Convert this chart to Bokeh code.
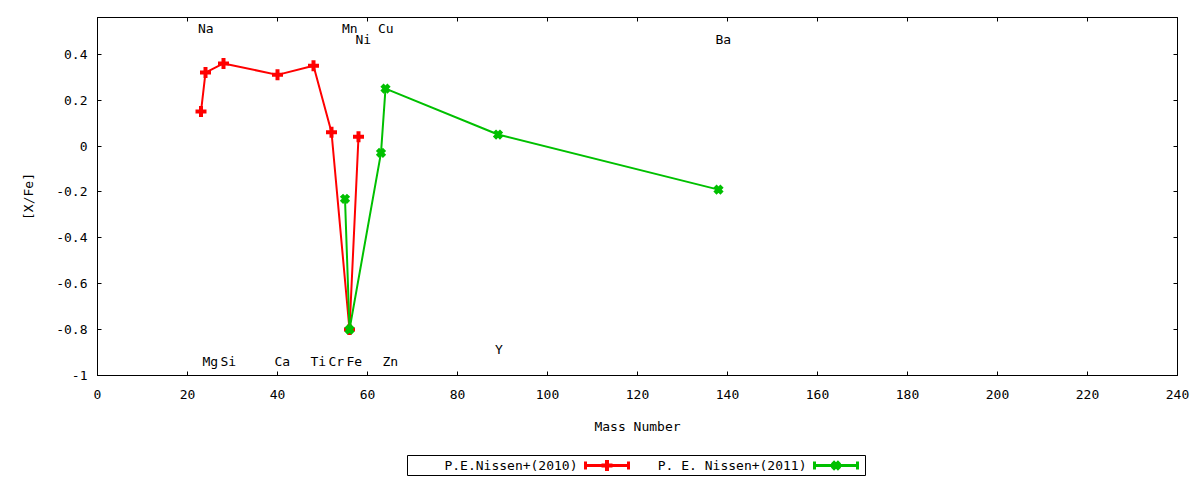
from bokeh.plotting import figure
from bokeh.models import Range1d, FixedTicker, LinearAxis, CustomJSTickFormatter, ColumnDataSource
from bokeh.layouts import column
from bokeh.core.properties import value
from bokeh.embed import file_html
from bokeh.resources import INLINE

# ---- data ----
red_mass = [23, 24, 28, 40, 48, 52, 56, 58]
red_xfe = [0.15, 0.32, 0.36, 0.31, 0.35, 0.06, -0.80, 0.04]
red_name = "P.E.Nissen+(2010)"

green_mass = [55, 56, 63, 64, 89, 138]
green_xfe = [-0.23, -0.80, -0.03, 0.25, 0.05, -0.19]
green_name = "P. E. Nissen+(2011)"

label_text = ["Na", "Mn", "Ni", "Cu", "Ba", "Mg", "Si", "Ca", "Ti", "Cr", "Fe", "Zn", "Y"]
label_mass = [23, 55, 58, 63, 138, 24, 28, 40, 48, 52, 56, 64, 89]
label_y = [0.5, 0.5, 0.45, 0.5, 0.45, -0.95, -0.95, -0.95, -0.95, -0.95, -0.95, -0.95, -0.9]

x_ticks = list(range(0, 241, 20))
y_ticks = [-1, -0.8, -0.6, -0.4, -0.2, 0, 0.2, 0.4]

x_title = "Mass Number"
y_title = "[X/Fe]"

RED = "#ff0000"
GREEN = "#00c000"
FONT = "DejaVu Sans Mono"
FS = "13px"

p = figure(width=1192, height=438, output_backend="svg", toolbar_location=None,
           x_range=Range1d(0, 240), y_range=Range1d(-1, 0.56),
           min_border_left=97, min_border_right=15, min_border_top=17, min_border_bottom=63)
p.grid.visible = False
p.outline_line_color = "black"
p.outline_line_width = 1
p.background_fill_color = "white"
p.border_fill_color = "white"

fmt = CustomJSTickFormatter(code="const v = Math.round(tick*10)/10; return v == 0 ? '0' : String(v);")
blank = CustomJSTickFormatter(code="return '';")

for ax in p.xaxis:
    ax.ticker = FixedTicker(ticks=x_ticks)
for ax in p.yaxis:
    ax.ticker = FixedTicker(ticks=y_ticks)
    ax.formatter = fmt

for ax in list(p.xaxis) + list(p.yaxis):
    ax.major_tick_in = 4
    ax.major_tick_out = 0
    ax.minor_tick_in = 0
    ax.minor_tick_out = 0
    ax.axis_line_color = "black"
    ax.major_tick_line_color = "black"
    ax.major_label_text_font = FONT
    ax.major_label_text_font_size = FS
    ax.major_label_text_color = "black"
    ax.axis_label_text_font = FONT
    ax.axis_label_text_font_size = FS
    ax.axis_label_text_font_style = "normal"
    ax.axis_label_text_color = "black"

p.xaxis.axis_label = x_title
p.yaxis.axis_label = y_title
p.xaxis.major_label_standoff = 14
p.xaxis.axis_label_standoff = 17
p.yaxis.major_label_standoff = 10
p.yaxis.axis_label_standoff = 17

# mirror axes (ticks only)
top = LinearAxis(ticker=FixedTicker(ticks=x_ticks), formatter=blank,
                 major_label_standoff=0, major_tick_in=4, major_tick_out=0,
                 minor_tick_in=0, minor_tick_out=0)
right = LinearAxis(ticker=FixedTicker(ticks=y_ticks), formatter=blank,
                   major_label_standoff=0, major_tick_in=4, major_tick_out=0,
                   minor_tick_in=0, minor_tick_out=0)
p.add_layout(top, "above")
p.add_layout(right, "right")

# series
p.line(red_mass, red_xfe, line_color=RED, line_width=2)
p.scatter(red_mass, red_xfe, marker="cross", size=11, line_color=RED, line_width=4)
p.line(green_mass, green_xfe, line_color=GREEN, line_width=2)
p.scatter(green_mass, green_xfe, marker="x", size=10, line_color=GREEN, line_width=4.5)

# element labels
src = ColumnDataSource(dict(x=label_mass, y=label_y, t=label_text))
p.text(x="x", y="y", text="t", source=src, text_font=value(FONT), text_font_size=FS,
       text_align="left", text_baseline="middle", x_offset=-3, y_offset=-3, text_color="black")

# ---- legend (gnuplot-style key below plot); x in page pixels ----
lg = figure(width=1192, height=42, output_backend="svg", toolbar_location=None,
            x_range=Range1d(97, 1177), y_range=Range1d(42, 0),
            min_border_left=97, min_border_right=15, min_border_top=0, min_border_bottom=0)
lg.axis.visible = False
lg.grid.visible = False
lg.outline_line_color = None
lg.quad(left=[407], right=[865], top=[17], bottom=[37], fill_color=None, line_color="black", line_width=1)

entries = [(red_name, RED, "cross", 11, 4, 577, 585, 628),
           (green_name, GREEN, "x", 10, 4.5, 806, 814, 857)]
for name, col, mk, sz, lw, tx, x0, x1 in entries:
    ly = 27
    lg.text(x=[tx], y=[ly], text=[name], text_font=value(FONT), text_font_size=FS,
            text_align="right", text_baseline="middle", text_color="black")
    lg.segment(x0=[x0], y0=[ly], x1=[x1], y1=[ly], line_color=col, line_width=3)
    lg.segment(x0=[x0, x1], y0=[ly - 4, ly - 4], x1=[x0, x1], y1=[ly + 4, ly + 4], line_color=col, line_width=3)
    lg.scatter(x=[(x0 + x1) / 2], y=[ly], marker=mk, size=sz, line_color=col, line_width=lw)

layout = column(p, lg, spacing=0)
open("out.html", "w").write(file_html(layout, INLINE))
